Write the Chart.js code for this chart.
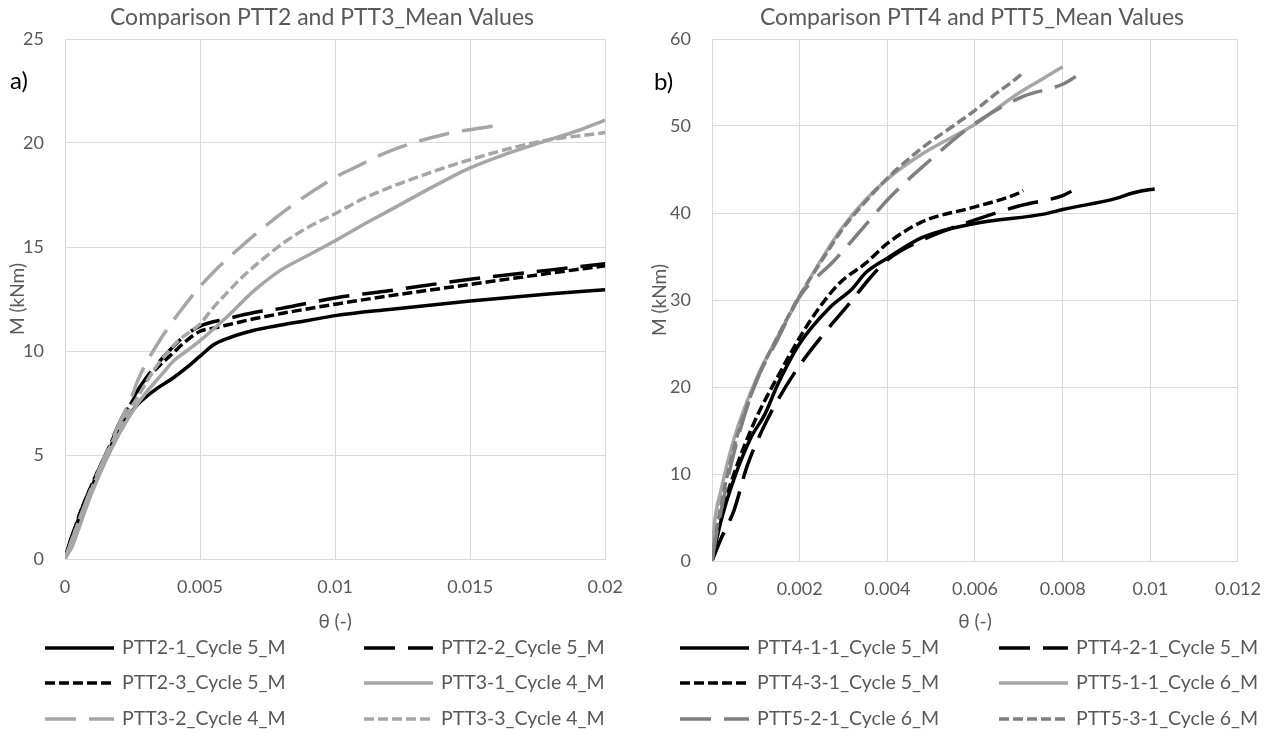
<!DOCTYPE html>
<html>
<head>
<meta charset="utf-8">
<script src="https://cdn.jsdelivr.net/npm/chart.js@4.4.1/dist/chart.umd.min.js"></script>
<style>
html,body{margin:0;padding:0;background:#ffffff;}
#wrap{position:relative;width:1278px;height:733px;overflow:hidden;background:#fff;}
canvas{position:absolute;top:0;}
#c1{left:0;width:640px;height:733px;}
#c2{left:640px;width:638px;height:733px;}
</style>
</head>
<body>
<div id="wrap">
<canvas id="c1" width="640" height="733"></canvas>
<canvas id="c2" width="638" height="733"></canvas>
</div>
<script>
// ---------------- DATA ----------------
// Panel a) : PTT2 / PTT3
const xTicksA = [0, 0.005, 0.01, 0.015, 0.02];
const yTicksA = [0, 5, 10, 15, 20, 25];

const thPTT2_1 = [0, 0.0002, 0.0005, 0.001, 0.0015, 0.002, 0.0026, 0.0033, 0.004, 0.0045, 0.005, 0.0055, 0.006, 0.007, 0.008, 0.009, 0.01, 0.012, 0.015, 0.018, 0.02];
const mPTT2_1  = [0, 0.9, 1.9, 3.5, 4.9, 6.2, 7.3, 8.1, 8.7, 9.2, 9.75, 10.3, 10.6, 11.0, 11.25, 11.47, 11.7, 12.0, 12.4, 12.75, 12.95];

const thPTT2_2 = [0, 0.0005, 0.001, 0.0015, 0.002, 0.0025, 0.003, 0.0035, 0.004, 0.0045, 0.005, 0.006, 0.007, 0.008, 0.01, 0.012, 0.015, 0.018, 0.02];
const mPTT2_2  = [0, 2.0, 3.6, 5.0, 6.5, 7.7, 8.7, 9.5, 10.2, 10.8, 11.2, 11.55, 11.85, 12.05, 12.55, 12.9, 13.45, 13.9, 14.2];

const thPTT2_3 = [0, 0.0005, 0.001, 0.0015, 0.002, 0.0025, 0.003, 0.0035, 0.004, 0.0045, 0.005, 0.0055, 0.006, 0.007, 0.008, 0.01, 0.012, 0.015, 0.018, 0.02];
const mPTT2_3  = [0, 2.0, 3.6, 5.0, 6.4, 7.6, 8.6, 9.3, 9.9, 10.5, 10.95, 11.1, 11.25, 11.55, 11.8, 12.25, 12.65, 13.2, 13.75, 14.1];

const thPTT3_1 = [0, 0.0003, 0.0006, 0.001, 0.0015, 0.002, 0.0026, 0.003, 0.0036, 0.004, 0.0045, 0.005, 0.006, 0.007, 0.008, 0.009, 0.01, 0.011, 0.012, 0.0137, 0.015, 0.0165, 0.0178, 0.019, 0.02];
const mPTT3_1  = [0, 0.7, 1.8, 3.2, 4.7, 6.0, 7.3, 8.0, 8.9, 9.5, 10.0, 10.5, 11.65, 12.9, 13.9, 14.6, 15.3, 16.05, 16.75, 17.95, 18.8, 19.55, 20.1, 20.6, 21.1];

const thPTT3_2 = [0, 0.0005, 0.001, 0.0015, 0.002, 0.0025, 0.0027, 0.003, 0.0036, 0.0042, 0.0048, 0.0055, 0.0065, 0.0082, 0.01, 0.0107, 0.012, 0.014, 0.0163];
const mPTT3_2  = [0, 1.8, 3.5, 5.0, 6.5, 7.9, 8.6, 9.4, 10.7, 11.8, 12.8, 13.8, 15.0, 16.8, 18.35, 18.8, 19.6, 20.4, 20.9];

const thPTT3_3 = [0, 0.0005, 0.001, 0.0015, 0.002, 0.0027, 0.0033, 0.0042, 0.005, 0.0055, 0.006, 0.0066, 0.0074, 0.0082, 0.009, 0.01, 0.011, 0.0125, 0.015, 0.0175, 0.02];
const mPTT3_3  = [0, 1.8, 3.4, 4.9, 6.3, 7.8, 9.1, 10.5, 11.3, 12.1, 12.8, 13.6, 14.5, 15.3, 15.95, 16.6, 17.3, 18.1, 19.2, 20.05, 20.5];

// Panel b) : PTT4 / PTT5
const xTicksB = [0, 0.002, 0.004, 0.006, 0.008, 0.01, 0.012];
const yTicksB = [0, 10, 20, 30, 40, 50, 60];

const thPTT4_1 = [0, 0.0002, 0.0005, 0.0009, 0.0012, 0.0015, 0.002, 0.0027, 0.0032, 0.0035, 0.004, 0.0048, 0.006, 0.0076, 0.008, 0.0092, 0.0096, 0.01, 0.0101];
const mPTT4_1  = [0, 4.5, 9.4, 14.3, 16.8, 20.3, 25.0, 29.2, 31.3, 33.1, 34.8, 37.2, 38.8, 39.9, 40.4, 41.65, 42.3, 42.7, 42.75];

const thPTT4_2 = [0, 0.0002, 0.0005, 0.0008, 0.00115, 0.0015, 0.002, 0.0025, 0.0032, 0.0036, 0.004, 0.0048, 0.006, 0.007, 0.008, 0.0082];
const mPTT4_2  = [0, 2.5, 5.8, 10.9, 15.1, 18.5, 22.5, 25.8, 30.0, 32.5, 34.6, 36.9, 39.2, 40.8, 42.0, 42.5];

const thPTT4_3 = [0, 0.00014, 0.0005, 0.00096, 0.0015, 0.0022, 0.0029, 0.0035, 0.004, 0.0048, 0.006, 0.007, 0.0071];
const mPTT4_3  = [0, 4.0, 10.0, 15.9, 21.2, 27.3, 31.9, 34.2, 36.5, 39.0, 40.7, 42.3, 42.6];

const thPTT5_1 = [0, 0.00005, 0.0002, 0.0005, 0.001, 0.0015, 0.0019, 0.0025, 0.003, 0.0035, 0.004, 0.0048, 0.006, 0.007, 0.0075, 0.008];
const mPTT5_1  = [0, 4.0, 8.0, 14.0, 20.8, 25.8, 29.5, 34.7, 38.5, 41.5, 43.9, 46.8, 50.2, 53.8, 55.3, 56.8];

const thPTT5_2 = [0, 0.0001, 0.0005, 0.001, 0.0015, 0.002, 0.0028, 0.0035, 0.004, 0.0048, 0.006, 0.0071, 0.008, 0.0083];
const mPTT5_2  = [0, 3.0, 12.4, 20.5, 25.5, 30.4, 34.6, 38.6, 41.5, 45.3, 50.3, 53.4, 54.8, 55.7];

const thPTT5_3 = [0, 0.0001, 0.0005, 0.001, 0.0015, 0.002, 0.0025, 0.003, 0.0035, 0.004, 0.0048, 0.0055, 0.006, 0.0065, 0.007, 0.00706];
const mPTT5_3  = [0, 3.5, 13.0, 20.5, 25.8, 30.5, 34.5, 38.3, 41.3, 44.0, 47.5, 50.0, 51.8, 53.8, 55.7, 56.0];

const labelsA = ['PTT2-1_Cycle 5_M', 'PTT2-2_Cycle 5_M', 'PTT2-3_Cycle 5_M', 'PTT3-1_Cycle 4_M', 'PTT3-2_Cycle 4_M', 'PTT3-3_Cycle 4_M'];
const labelsB = ['PTT4-1-1_Cycle 5_M', 'PTT4-2-1_Cycle 5_M', 'PTT4-3-1_Cycle 5_M', 'PTT5-1-1_Cycle 6_M', 'PTT5-2-1_Cycle 6_M', 'PTT5-3-1_Cycle 6_M'];

// ---------------- STYLE ----------------
const FONT = "Lato, 'Open Sans', 'DejaVu Sans', sans-serif";
const TXT = '#595959';
const GRID = '#d9d9d9';
const BLACK = '#000000', LGRAY = '#a6a6a6', MGRAY = '#7f7f7f';
const SOLID = [], LONG = [31, 13], SHORT = [10, 4];

function pts(xs, ys) { return xs.map((x, i) => ({ x: x, y: ys[i] })); }

function ds(label, xs, ys, color, dash, idx) {
  return {
    label: label,
    data: pts(xs, ys),
    borderColor: color,
    backgroundColor: color,
    borderWidth: 3.5,
    borderDash: dash,
    borderCapStyle: 'butt',
    borderJoinStyle: 'round',
    showLine: true,
    pointRadius: 0,
    pointHoverRadius: 0,
    cubicInterpolationMode: 'monotone',
    fill: false,
    order: 6 - idx
  };
}

const decor = {
  id: 'decor',
  afterDraw(chart, args, o) {
    const ctx = chart.ctx;
    ctx.save();
    ctx.textBaseline = 'middle';
    // title
    ctx.fillStyle = TXT;
    ctx.font = o.titleSize + 'px ' + FONT;
    ctx.textAlign = 'center';
    ctx.fillText(o.title, o.titleX, o.titleY);
    // panel tag
    ctx.fillStyle = '#000';
    ctx.font = o.tagSize + 'px ' + FONT;
    ctx.textAlign = 'left';
    ctx.fillText(o.tag, o.tagX, o.tagY);
    // legend (3 rows x 2 columns)
    chart.data.datasets.forEach((d, i) => {
      const col = i % 2, row = Math.floor(i / 2);
      const x0 = o.legCols[col], y = o.legRows[row];
      ctx.strokeStyle = d.borderColor;
      ctx.lineWidth = d.borderWidth;
      ctx.lineCap = 'butt';
      ctx.setLineDash(d.borderDash || []);
      ctx.beginPath();
      ctx.moveTo(x0, y);
      ctx.lineTo(x0 + o.legLine, y);
      ctx.stroke();
      ctx.setLineDash([]);
      ctx.fillStyle = TXT;
      ctx.font = o.legSize + 'px ' + FONT;
      ctx.textAlign = 'left';
      ctx.fillText(d.label, x0 + o.legLine + o.legGap, y);
    });
    ctx.restore();
  }
};

function makeChart(id, datasets, xT, yT, xMax, yMax, yWidth, xHeight, padRight, yTitlePad, deco) {
  return new Chart(document.getElementById(id), {
    type: 'scatter',
    data: { datasets: datasets },
    options: {
      responsive: false,
      animation: false,
      events: [],
      layout: { padding: { top: 39, right: padRight, bottom: 100, left: 0 } },
      plugins: {
        legend: { display: false },
        title: { display: false },
        tooltip: { enabled: false },
        decor: deco
      },
      scales: {
        x: {
          type: 'linear', min: 0, max: xMax,
          afterBuildTicks: (s) => { s.ticks = xT.map(v => ({ value: v })); },
          afterFit: (s) => { s.height = xHeight; },
          grid: { color: GRID, lineWidth: 1, drawTicks: false },
          border: { color: GRID, width: 1 },
          ticks: { color: TXT, font: { family: FONT, size: 18 }, padding: 17, maxRotation: 0, autoSkip: false,
                   callback: (v) => String(v) },
          title: { display: true, text: 'θ (-)', color: TXT, font: { family: FONT, size: 19 }, padding: { top: 0, bottom: 0 } }
        },
        y: {
          type: 'linear', min: 0, max: yMax,
          afterBuildTicks: (s) => { s.ticks = yT.map(v => ({ value: v })); },
          afterFit: (s) => { s.width = yWidth; },
          grid: { color: GRID, lineWidth: 1, drawTicks: false },
          border: { color: GRID, width: 1 },
          ticks: { color: TXT, font: { family: FONT, size: 18 }, padding: 21, autoSkip: false,
                   callback: (v) => String(v) },
          title: { display: true, text: 'M (kNm)', color: TXT, font: { family: FONT, size: 19 }, padding: { top: yTitlePad, bottom: 0 } }
        }
      }
    },
    plugins: [decor]
  });
}

function build() {
  const dsA = [
    ds(labelsA[0], thPTT2_1, mPTT2_1, BLACK, SOLID, 0),
    ds(labelsA[1], thPTT2_2, mPTT2_2, BLACK, LONG, 1),
    ds(labelsA[2], thPTT2_3, mPTT2_3, BLACK, SHORT, 2),
    ds(labelsA[3], thPTT3_1, mPTT3_1, LGRAY, SOLID, 3),
    ds(labelsA[4], thPTT3_2, mPTT3_2, LGRAY, LONG, 4),
    ds(labelsA[5], thPTT3_3, mPTT3_3, LGRAY, SHORT, 5)
  ];
  const dsB = [
    ds(labelsB[0], thPTT4_1, mPTT4_1, BLACK, SOLID, 0),
    ds(labelsB[1], thPTT4_2, mPTT4_2, BLACK, LONG, 1),
    ds(labelsB[2], thPTT4_3, mPTT4_3, BLACK, SHORT, 2),
    ds(labelsB[3], thPTT5_1, mPTT5_1, LGRAY, SOLID, 3),
    ds(labelsB[4], thPTT5_2, mPTT5_2, MGRAY, LONG, 4),
    ds(labelsB[5], thPTT5_3, mPTT5_3, MGRAY, SHORT, 5)
  ];
  makeChart('c1', dsA, xTicksA, yTicksA, 0.02, 25, 65, 74, 34, 6, {
    title: 'Comparison PTT2 and PTT3_Mean Values', titleX: 322, titleY: 18, titleSize: 23,
    tag: 'a)', tagX: 10, tagY: 81, tagSize: 24,
    legCols: [45, 364], legRows: [648, 683, 719], legLine: 69, legGap: 8, legSize: 19.5
  });
  makeChart('c2', dsB, xTicksB, yTicksB, 0.012, 60, 72, 72, 33, 8, {
    title: 'Comparison PTT4 and PTT5_Mean Values', titleX: 332, titleY: 18, titleSize: 23,
    tag: 'b)', tagX: 14, tagY: 82, tagSize: 24,
    legCols: [40, 359], legRows: [648, 683, 719], legLine: 69, legGap: 8, legSize: 19.5
  });
}

if (document.fonts && document.fonts.load) {
  Promise.all([document.fonts.load('18px Lato'), document.fonts.load('24px Lato')]).then(build, build);
} else { build(); }
</script>
</body>
</html>
